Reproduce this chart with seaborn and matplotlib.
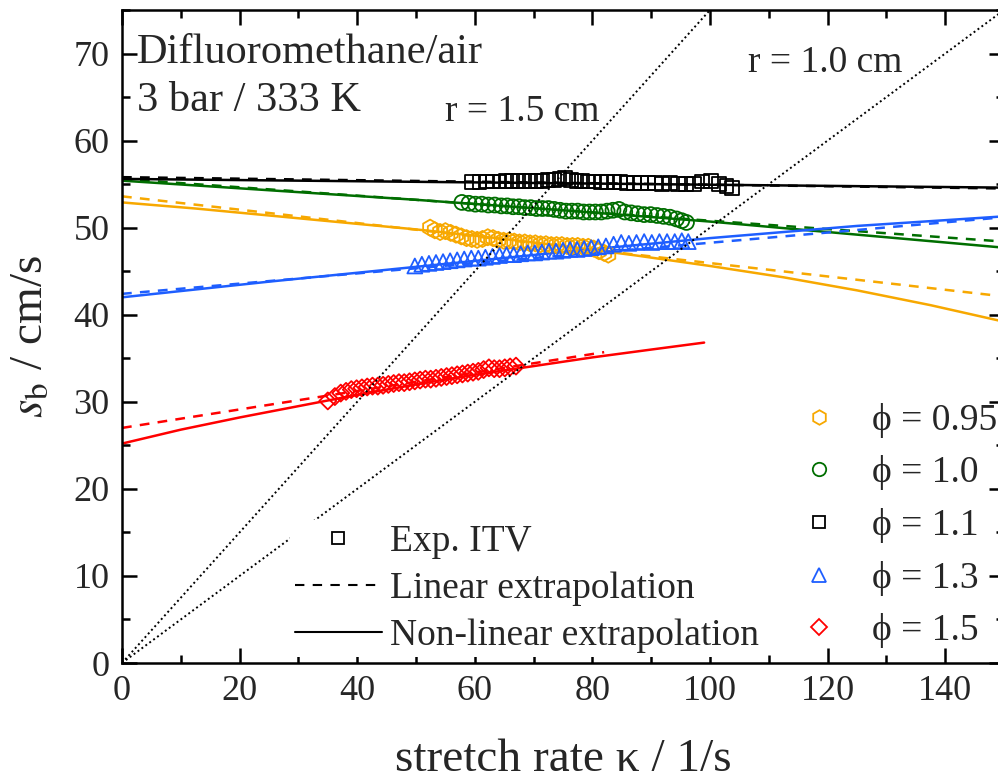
import numpy as np
import pandas as pd
import matplotlib
matplotlib.use('Agg')
import matplotlib.pyplot as plt
import seaborn as sns
from matplotlib.lines import Line2D

sns.set_theme(style='ticks')
plt.rcParams['font.family'] = ['Liberation Serif', 'DejaVu Serif']
plt.rcParams['mathtext.fontset'] = 'stix'

# ---------------- data ----------------
phi_labels = ['ϕ = 0.95', 'ϕ = 1.0', 'ϕ = 1.1', 'ϕ = 1.3', 'ϕ = 1.5']

# experimental points (stretch rate, burned flame speed)
k_095 = [52.4, 53.2, 54.1, 55.0, 55.9, 56.8, 57.7, 58.6, 59.5, 60.4, 61.3, 62.2, 63.1, 64.0, 64.9,
         65.8, 66.7, 67.6, 68.5, 69.4, 70.3, 71.2, 72.1, 73.0, 73.9, 74.8, 75.7, 76.6, 77.5, 78.4,
         79.3, 80.2, 81.1, 82.0, 82.7]
s_095 = [50.0, 49.7, 49.5, 49.6, 49.4, 49.2, 49.0, 48.8, 48.7, 48.6, 48.7, 48.9, 48.8, 48.6, 48.5,
         48.5, 48.4, 48.3, 48.3, 48.2, 48.2, 48.1, 48.1, 48.0, 48.0, 48.0, 47.9, 47.9, 47.9, 47.8,
         47.8, 47.6, 47.3, 47.1, 46.9]

k_10 = [57.8, 59.0, 60.1, 61.2, 62.3, 63.4, 64.5, 65.5, 66.5, 67.5, 68.5, 69.5, 70.5, 71.5, 72.5,
        73.5, 74.5, 75.5, 76.5, 77.5, 78.5, 79.5, 80.5, 81.5, 82.5, 83.5, 84.5, 85.5, 86.6, 87.7,
        88.8, 89.9, 91.0, 92.1, 93.2, 94.3, 95.2, 96.0]
s_10 = [52.9, 52.8, 52.7, 52.7, 52.6, 52.6, 52.5, 52.5, 52.4, 52.4, 52.3, 52.3, 52.2, 52.2, 52.2,
        52.1, 52.0, 51.9, 51.9, 51.9, 51.8, 51.8, 51.8, 51.8, 51.9, 52.0, 52.1, 51.8, 51.7, 51.6,
        51.5, 51.5, 51.4, 51.3, 51.2, 51.0, 50.8, 50.6]

k_11 = [59.5, 60.8, 62.0, 63.1, 64.2, 65.3, 66.4, 67.4, 68.4, 69.4, 70.4, 71.4, 72.4, 73.4, 74.4,
        75.3, 76.3, 77.3, 78.3, 79.3, 80.3, 81.4, 82.5, 83.6, 84.7, 85.8, 87.0, 88.2, 89.4, 90.6,
        91.9, 93.2, 94.5, 95.9, 97.3, 98.7, 100.1, 101.5, 102.8, 103.8]
s_11 = [55.2, 55.2, 55.3, 55.3, 55.3, 55.4, 55.4, 55.4, 55.4, 55.4, 55.4, 55.4, 55.5, 55.5, 55.6,
        55.7, 55.5, 55.4, 55.4, 55.3, 55.3, 55.2, 55.2, 55.2, 55.2, 55.1, 55.1, 55.1, 55.1, 55.1,
        55.0, 55.1, 55.0, 55.0, 55.0, 55.3, 55.4, 55.0, 54.8, 54.6]

k_13 = [49.8, 51.0, 52.2, 53.4, 54.6, 55.8, 57.0, 58.2, 59.4, 60.6, 61.8, 63.0, 64.2, 65.4, 66.6,
        67.8, 69.0, 70.2, 71.4, 72.6, 73.8, 75.0, 76.2, 77.4, 78.6, 79.8, 81.0, 82.3, 83.6, 84.9,
        86.2, 87.5, 88.8, 90.1, 91.4, 92.7, 94.0, 95.2, 96.3]
s_13 = [45.6, 45.8, 45.9, 46.0, 46.1, 46.2, 46.3, 46.4, 46.5, 46.5, 46.6, 46.7, 46.8, 46.9, 46.9,
        47.0, 47.1, 47.1, 47.2, 47.3, 47.3, 47.4, 47.5, 47.5, 47.6, 47.7, 47.8, 47.9, 48.1, 48.3,
        48.2, 48.3, 48.4, 48.3, 48.4, 48.4, 48.4, 48.5, 48.4]

k_15 = [35.0, 36.2, 37.2, 38.1, 39.0, 39.9, 40.8, 41.7, 42.6, 43.5, 44.4, 45.3, 46.2, 47.1, 48.0,
        48.9, 49.8, 50.7, 51.6, 52.5, 53.4, 54.3, 55.2, 56.1, 57.0, 57.9, 58.8, 59.7, 60.6, 61.5,
        62.4, 63.3, 64.2, 65.1, 66.0, 67.0]
s_15 = [30.1, 30.6, 31.0, 31.2, 31.4, 31.5, 31.6, 31.7, 31.8, 31.8, 31.9, 32.0, 32.1, 32.2, 32.2,
        32.3, 32.4, 32.5, 32.6, 32.6, 32.7, 32.8, 32.9, 33.0, 33.1, 33.2, 33.3, 33.4, 33.5, 33.7,
        33.9, 33.8, 33.8, 33.9, 34.0, 34.1]

# linear extrapolations
lin_k = {'0.95': [0, 150], '1.0': [0, 150], '1.1': [0, 150], '1.3': [0, 150], '1.5': [0, 82]}
lin_s = {'0.95': [53.6, 42.1], '1.0': [55.6, 48.4], '1.1': [55.8, 54.5], '1.3': [42.4, 51.2],
         '1.5': [27.0, 35.7]}

# non-linear extrapolations
nl_k = {'0.95': [0, 12.5, 25, 37.5, 50, 62.5, 75, 87.5, 100, 112.5, 125, 137.5, 150],
        '1.0': [0, 25, 50, 75, 100, 125, 150],
        '1.1': [0, 75, 150],
        '1.3': [0, 25, 50, 75, 100, 125, 150],
        '1.5': [0, 5, 10, 15, 20, 30, 40, 50, 60, 70, 80, 90, 99]}
nl_s = {'0.95': [52.9, 52.2, 51.4, 50.6, 49.8, 48.9, 47.9, 46.8, 45.6, 44.3, 42.8, 41.1, 39.2],
        '1.0': [55.4, 54.3, 53.2, 52.0, 50.7, 49.2, 47.7],
        '1.1': [55.6, 55.1, 54.6],
        '1.3': [42.0, 43.8, 45.5, 47.2, 48.8, 50.2, 51.3],
        '1.5': [25.2, 26.0, 26.8, 27.5, 28.2, 29.5, 30.8, 32.0, 33.1, 34.1, 35.1, 36.0, 36.8]}

radii_cm = [1.5, 1.0]
radius_labels = ['r = 1.5 cm', 'r = 1.0 cm']

keys = ['0.95', '1.0', '1.1', '1.3', '1.5']
exp_k = [k_095, k_10, k_11, k_13, k_15]
exp_s = [s_095, s_10, s_11, s_13, s_15]
colors = ['#F7A800', '#006E00', '#000000', '#1E5EFF', '#FF0000']
markers = ['h', 'o', 's', '^', 'D']
msizes = [135, 115, 100, 115, 75]

# ---------------- figure ----------------
W, H = 998, 784
fig = plt.figure(figsize=(W / 100, H / 100), dpi=100)
ax_l, ax_r, ax_t, ax_b = 122, 1004, 10, 663
ax = fig.add_axes([ax_l / W, 1 - ax_b / H, (ax_r - ax_l) / W, (ax_b - ax_t) / H])

lw = 1.8
for key, c in zip(keys, colors):
    sns.lineplot(x=nl_k[key], y=nl_s[key], color=c, lw=lw, ax=ax, sort=False,
                 estimator=None, zorder=2)
    sns.lineplot(x=lin_k[key], y=lin_s[key], color=c, lw=lw, ax=ax, sort=False,
                 estimator=None, linestyle=(0, (3.9, 3.3)), zorder=2)

for k, s, c, m, ms in zip(exp_k, exp_s, colors, markers, msizes):
    sns.scatterplot(x=k, y=s, marker=m, s=ms, facecolors='none', edgecolor=c,
                    linewidth=1.3, ax=ax, zorder=3, legend=False)

for r in radii_cm:
    ax.axline((0, 0), slope=r / 2.0, color='black', lw=1.4, ls=(0, (1, 1.5)), zorder=4)

ax.set_xlim(0, 150)
ax.set_ylim(0, 75)
ax.set_xticks(np.arange(0, 141, 20))
ax.set_yticks(np.arange(0, 71, 10))
ax.set_xticks(np.arange(0, 151, 10), minor=True)
ax.set_yticks(np.arange(0, 76, 5), minor=True)
ax.tick_params(which='both', direction='in', top=True, right=True, width=1.8, color='black')
ax.tick_params(which='major', length=11, labelsize=26, pad=9)
ax.tick_params(which='minor', length=6)
for sp in ax.spines.values():
    sp.set_linewidth(1.8)
    sp.set_color('black')

ax.set_xlabel('stretch rate κ / 1/s', fontsize=34)
ax.xaxis.set_label_coords(0.5, -0.115)
ax.xaxis.label.set_va('top')
ax.set_ylabel(r'$s_\mathrm{b}$ / cm/s', fontsize=34)
ax.yaxis.set_label_coords(-0.079, 0.5)

# annotations
ax.text(0.017, 0.919, 'Difluoromethane/air', transform=ax.transAxes, fontsize=30.5,
        va='baseline', ha='left')
ax.text(0.017, 0.845, '3 bar / 333 K', transform=ax.transAxes, fontsize=30.5,
        va='baseline', ha='left')
ax.text(0.366, 0.830, radius_labels[0], transform=ax.transAxes, fontsize=27,
        va='baseline', ha='left')
ax.text(0.710, 0.9055, radius_labels[1], transform=ax.transAxes, fontsize=27,
        va='baseline', ha='left')

# legend 1 (line types)
h1 = [Line2D([], [], ls='none', marker='s', mfc='none', mec='black', ms=8.5, mew=1.3),
      Line2D([], [], color='black', lw=1.5, ls=(0, (4.5, 4.0))),
      Line2D([], [], color='black', lw=1.5)]
l1 = ['Exp. ITV', 'Linear extrapolation', 'Non-linear extrapolation']
leg1 = ax.legend(h1, l1, loc='upper left', bbox_to_anchor=(290 / W, 1 - 520 / H),
                 bbox_transform=fig.transFigure, fontsize=27, frameon=True,
                 facecolor='white', edgecolor='none', framealpha=1, fancybox=False,
                 borderpad=0.12, handlelength=2.32, handletextpad=0.22, labelspacing=0.33,
                 borderaxespad=0)
leg1.set_zorder(5)
ax.add_artist(leg1)

# legend 2 (equivalence ratio)
h2 = [Line2D([], [], ls='none', marker=m, mfc='none', mec=c, ms=np.sqrt(ms) * 0.9, mew=1.3)
      for c, m, ms in zip(colors, markers, msizes)]
leg2 = ax.legend(h2, phi_labels, loc='upper left', bbox_to_anchor=(785 / W, 1 - 399 / H),
                 bbox_transform=fig.transFigure, fontsize=27, frameon=False,
                 borderpad=0.1, handlelength=1.6, handletextpad=0.62, labelspacing=0.47,
                 borderaxespad=0)

fig.savefig('out.png', dpi=100)
